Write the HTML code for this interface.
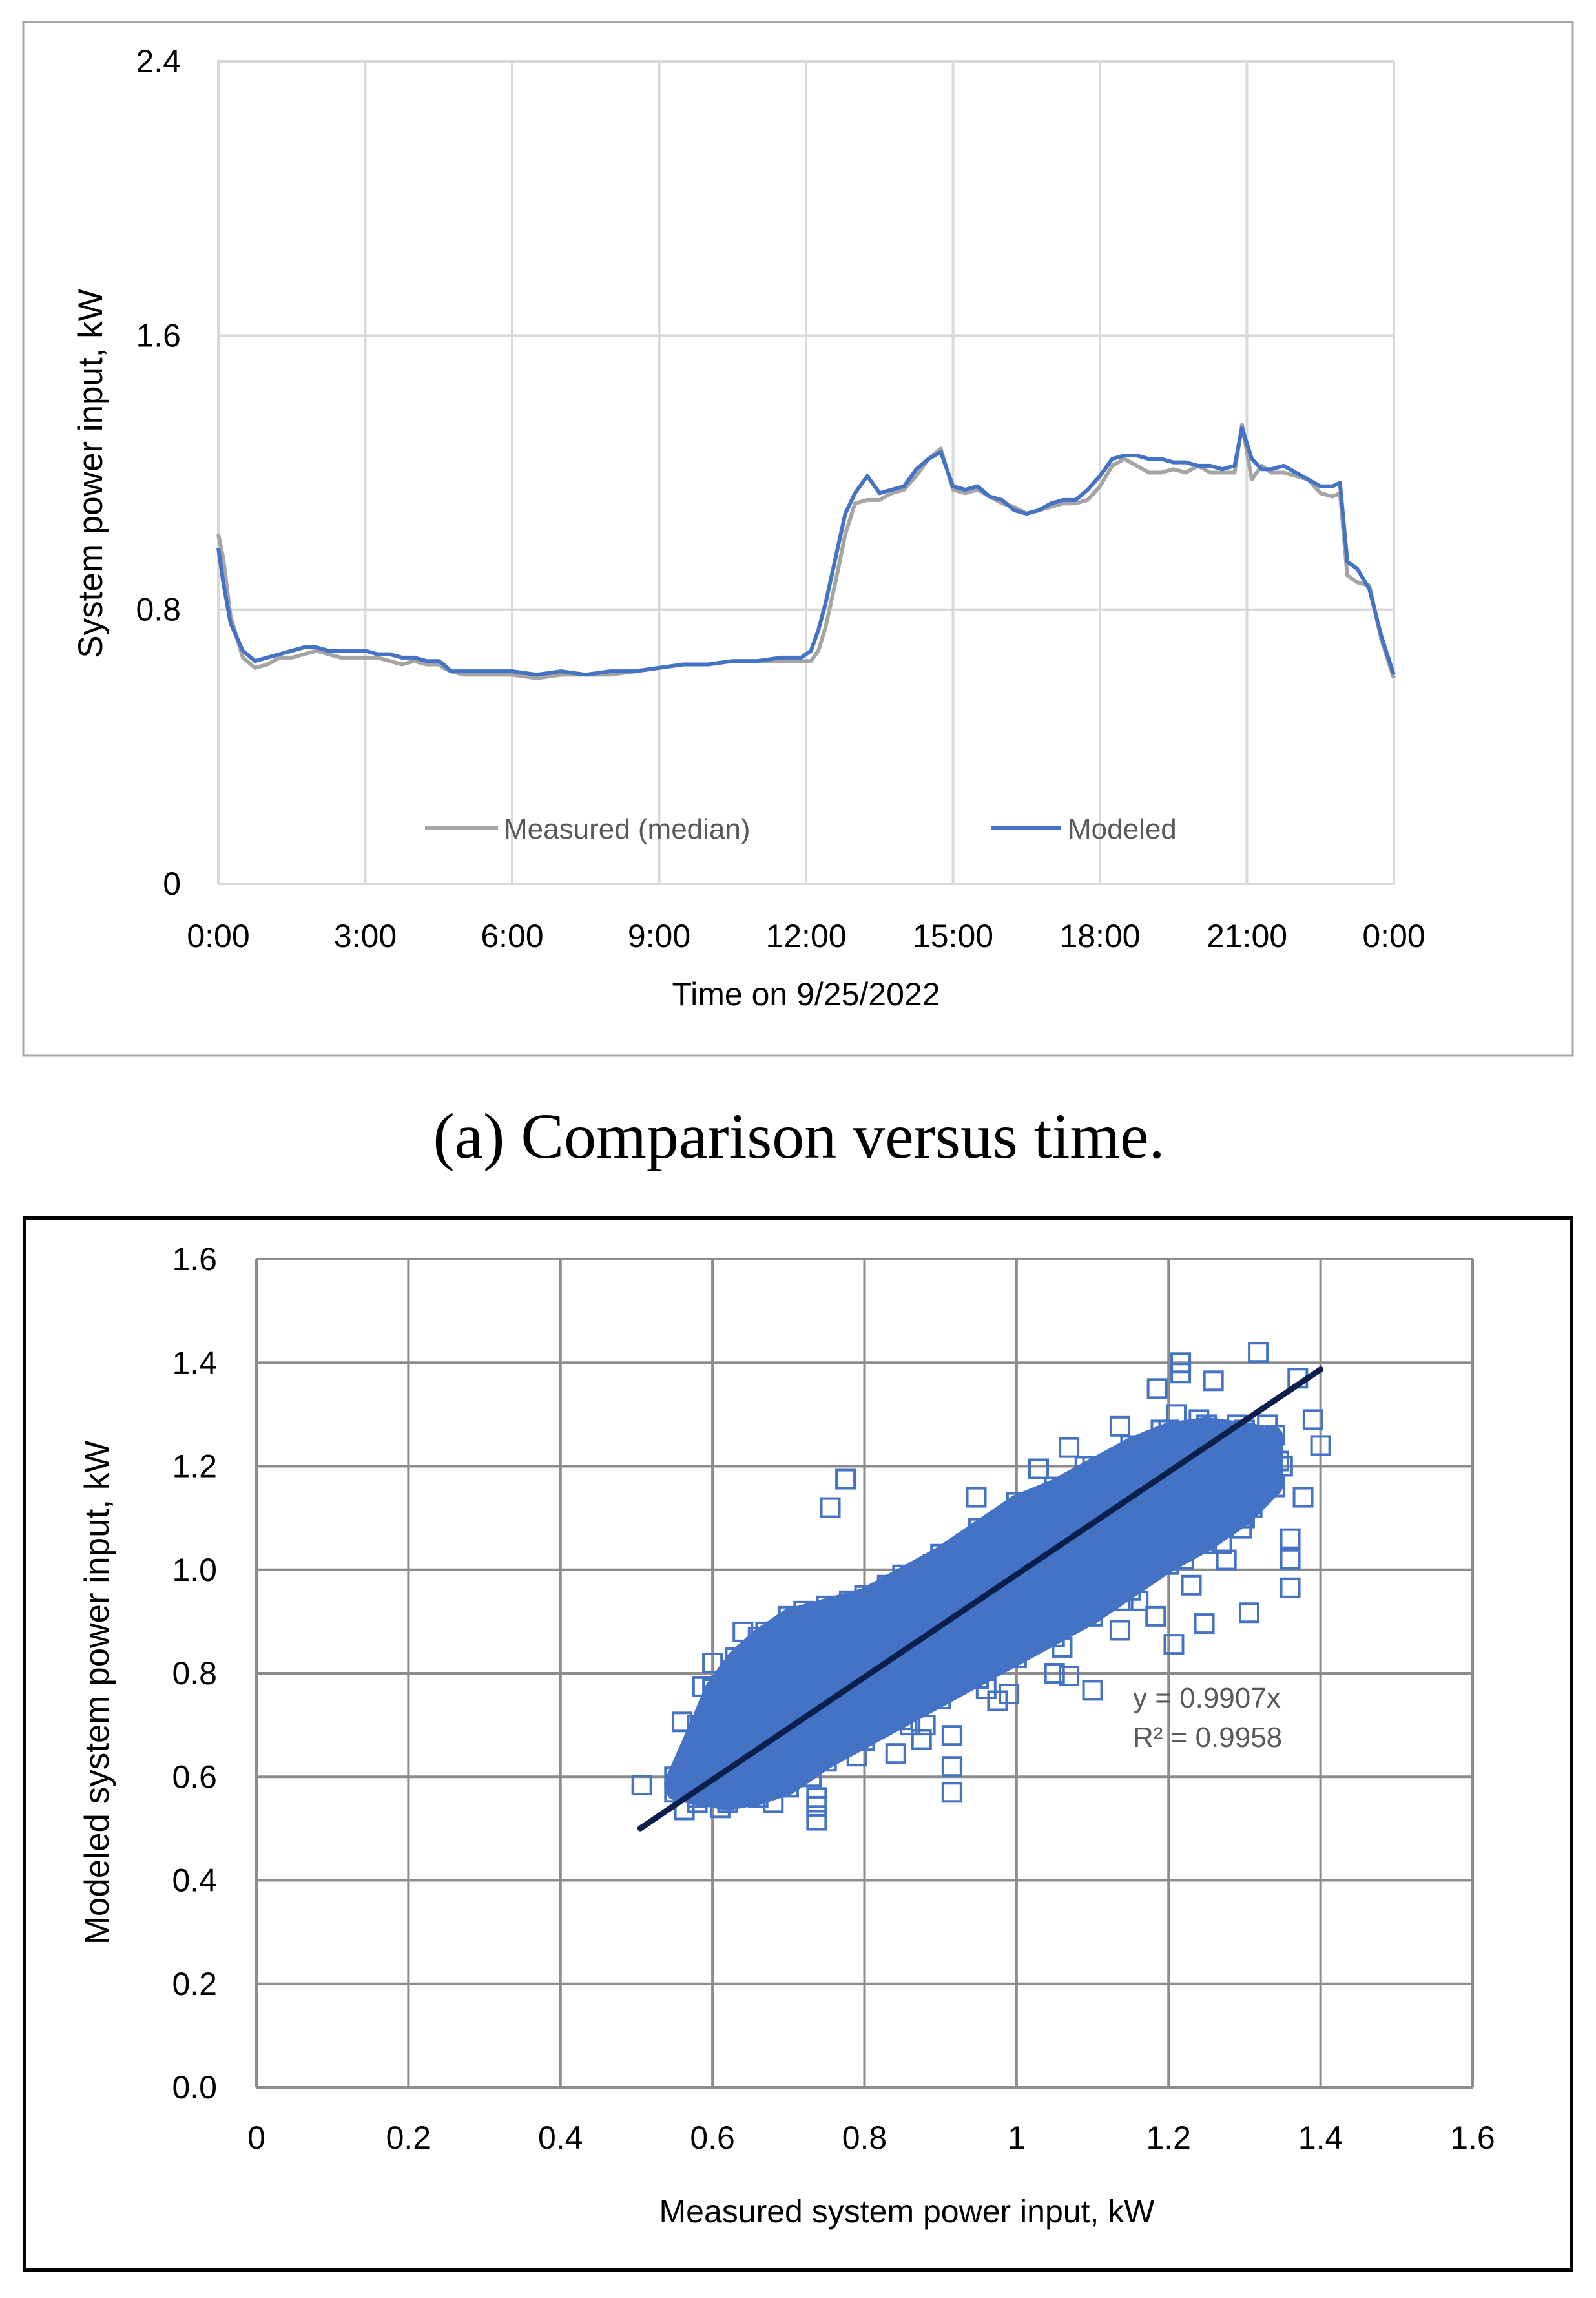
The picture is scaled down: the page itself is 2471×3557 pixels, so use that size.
<!DOCTYPE html>
<html><head><meta charset="utf-8"><style>
html,body{margin:0;padding:0;background:#fff}
svg{display:block}
text{font-family:"Liberation Sans",sans-serif}
</style></head><body>
<svg id="s" width="2471" height="3557" xmlns="http://www.w3.org/2000/svg">
<rect x="0" y="0" width="2471" height="3557" fill="#fff"/>
<rect x="36" y="34" width="2399" height="1600" fill="none" stroke="#a6a6a6" stroke-width="3"/>
<g id="gA"></g>
<text x="1237" y="1792" font-size="100" text-anchor="middle" style="font-family:'Liberation Serif',serif">(a)  Comparison versus time.</text>
<rect x="38" y="1885" width="2395" height="1628" fill="none" stroke="#000" stroke-width="6"/>
<g id="gB"></g>
</svg>
<script>
// ---------- Chart A data ----------
const hours = [0,0.1,0.25,0.5,0.75,1,1.25,1.5,1.75,2,2.25,2.5,2.75,3,3.25,3.5,3.75,4,4.25,4.5,4.6,4.75,5,5.5,6,6.5,7,7.5,8,8.5,9,9.5,10,10.5,11,11.5,11.9,12.1,12.25,12.4,12.6,12.8,13,13.25,13.5,13.75,14,14.25,14.5,14.75,15,15.25,15.5,15.75,16,16.25,16.5,16.75,17,17.25,17.5,17.75,18,18.25,18.5,18.75,19,19.25,19.5,19.75,20,20.25,20.5,20.75,20.9,21.1,21.3,21.5,21.75,22,22.25,22.5,22.75,22.9,23.05,23.25,23.5,23.75,24];
const modeled = [0.98,0.88,0.76,0.68,0.65,0.66,0.67,0.68,0.69,0.69,0.68,0.68,0.68,0.68,0.67,0.67,0.66,0.66,0.65,0.65,0.64,0.62,0.62,0.62,0.62,0.61,0.62,0.61,0.62,0.62,0.63,0.64,0.64,0.65,0.65,0.66,0.66,0.68,0.74,0.82,0.95,1.08,1.14,1.19,1.14,1.15,1.16,1.21,1.24,1.26,1.16,1.15,1.16,1.13,1.12,1.09,1.08,1.09,1.11,1.12,1.12,1.15,1.19,1.24,1.25,1.25,1.24,1.24,1.23,1.23,1.22,1.22,1.21,1.22,1.33,1.24,1.21,1.21,1.22,1.20,1.18,1.16,1.16,1.17,0.94,0.92,0.86,0.72,0.61];
const measured = [1.02,0.95,0.78,0.66,0.63,0.64,0.66,0.66,0.67,0.68,0.67,0.66,0.66,0.66,0.66,0.65,0.64,0.65,0.64,0.64,0.63,0.62,0.61,0.61,0.61,0.60,0.61,0.61,0.61,0.62,0.63,0.64,0.64,0.65,0.65,0.65,0.65,0.65,0.68,0.75,0.88,1.02,1.11,1.12,1.12,1.14,1.15,1.19,1.24,1.27,1.15,1.14,1.15,1.13,1.11,1.10,1.08,1.09,1.10,1.11,1.11,1.12,1.16,1.22,1.24,1.22,1.20,1.20,1.21,1.20,1.22,1.20,1.20,1.20,1.34,1.18,1.22,1.20,1.20,1.19,1.18,1.14,1.13,1.14,0.90,0.88,0.87,0.71,0.60];
const yTicksA = [0,0.8,1.6,2.4];
const yTickLabelsA = ["0","0.8","1.6","2.4"];
const xTicksA = [0,3,6,9,12,15,18,21,24];
const xTickLabelsA = ["0:00","3:00","6:00","9:00","12:00","15:00","18:00","21:00","0:00"];

// ---------- Chart B data ----------
const bTicks = [0,0.2,0.4,0.6,0.8,1.0,1.2,1.4,1.6];
const bXLabels = ["0","0.2","0.4","0.6","0.8","1","1.2","1.4","1.6"];
const bYLabels = ["0.0","0.2","0.4","0.6","0.8","1.0","1.2","1.4","1.6"];
const cloudX = [0.55,0.58,0.60,0.63,0.66,0.70,0.75,0.80,0.85,0.90,0.95,1.00,1.05,1.10,1.15,1.20,1.25,1.30,1.34,1.34,1.30,1.25,1.20,1.15,1.10,1.05,1.00,0.95,0.90,0.85,0.80,0.75,0.70,0.66,0.62,0.58,0.55];
const cloudY = [0.60,0.70,0.77,0.83,0.87,0.91,0.93,0.95,0.99,1.03,1.08,1.13,1.16,1.20,1.24,1.27,1.28,1.27,1.26,1.16,1.10,1.05,1.01,0.96,0.91,0.87,0.83,0.79,0.75,0.71,0.67,0.63,0.58,0.56,0.55,0.56,0.57];
const outX = [1.216,1.318,1.259,1.185,1.37,1.39,1.40,1.377,1.36,1.36,1.306,1.247,1.207,1.10,1.069,0.915,0.915,0.737,0.737,0.755,0.775,0.507,0.563,0.875,1.136,1.276,1.296,1.183,1.23,0.975,0.841,0.947,1.029,1.136,0.587,0.56,0.661,1.069,0.915,0.737,1.216,1.36,0.58,0.62,0.70,0.88,0.99,1.05,1.16,1.33,1.31,1.27,0.64,0.60,0.67,0.72,0.78,0.83,0.92,0.97,1.02,1.08,1.12,1.19,1.24,1.29,1.33,1.35,1.31,1.22,1.14,1.06,0.96,0.86,0.79,0.73,0.68,0.61,0.57,1.21,1.09,0.99,0.89,0.82,1.27,1.32,1.345];
const outY = [1.40,1.42,1.365,1.35,1.37,1.29,1.24,1.14,1.06,0.965,0.917,0.896,0.856,0.767,0.795,0.68,0.57,0.543,0.516,1.12,1.175,0.584,0.536,0.672,0.883,1.019,1.08,0.91,0.97,0.747,0.645,1.14,1.195,1.277,0.774,0.706,0.829,1.236,0.62,0.56,1.38,1.02,0.55,0.55,0.58,0.70,0.76,0.80,0.94,1.28,1.24,1.26,0.88,0.82,0.88,0.92,0.94,0.97,1.02,1.07,1.12,1.15,1.19,1.27,1.29,1.28,1.22,1.20,1.12,1.02,0.94,0.85,0.77,0.70,0.64,0.60,0.55,0.54,0.58,1.30,1.20,1.10,1.01,0.95,1.05,1.16,1.21];
const slope = 0.9907;
const trendRange = [0.505,1.4];

const NS="http://www.w3.org/2000/svg";
function mk(parent,tag,attrs,txt){const e=document.createElementNS(NS,tag);for(const k in attrs)e.setAttribute(k,attrs[k]);if(txt!==undefined)e.textContent=txt;parent.appendChild(e);return e;}

// ---- Chart A ----
const gA=document.getElementById('gA');
const xA=h=>338+h*(1820/24);
const yA=v=>1368-v*(1273/2.4);
xTicksA.forEach((t,i)=>{
  const l=mk(gA,'line',{x1:xA(t),x2:xA(t),y1:yA(2.4),y2:yA(0),stroke:'#d9d9d9','stroke-width':4});
  
  
  const tx=mk(gA,'text',{x:xA(t),y:1466,'font-size':50,'text-anchor':'middle',fill:'#000'},xTickLabelsA[i]);
  
  
});
yTicksA.forEach((t,i)=>{
  const l=mk(gA,'line',{x1:xA(0),x2:xA(24),y1:yA(t),y2:yA(t),stroke:'#d9d9d9','stroke-width':4});
  
  
  const tx=mk(gA,'text',{x:280,y:yA(t)+17,'font-size':50,'text-anchor':'end',fill:'#000'},yTickLabelsA[i]);
  
  
});
function pathA(vals){return vals.map((v,i)=>(i?'L':'M')+xA(hours[i]).toFixed(1)+','+yA(v).toFixed(1)).join(' ');}
const pm=mk(gA,'path',{d:pathA(measured),fill:'none',stroke:'#a5a5a5','stroke-width':6,'stroke-linejoin':'round'});


const pmod=mk(gA,'path',{d:pathA(modeled),fill:'none',stroke:'#4472c4','stroke-width':6,'stroke-linejoin':'round'});


const ytA=mk(gA,'text',{x:0,y:0,'font-size':53,'text-anchor':'middle',transform:'translate(158,733) rotate(-90)'},'System power input, kW');


const xtA=mk(gA,'text',{x:1248,y:1556,'font-size':50,'text-anchor':'middle'},'Time on 9/25/2022');


const lg1=mk(gA,'line',{x1:658,x2:771,y1:1282,y2:1282,stroke:'#a5a5a5','stroke-width':6});


const lt1=mk(gA,'text',{x:780,y:1298,'font-size':44,fill:'#595959'},'Measured (median)');


const lg2=mk(gA,'line',{x1:1534,x2:1643,y1:1282,y2:1282,stroke:'#4472c4','stroke-width':6});


const lt2=mk(gA,'text',{x:1653,y:1298,'font-size':44,fill:'#595959'},'Modeled');



// ---- Chart B ----
const gB=document.getElementById('gB');
const xB=v=>397+v*(1883/1.6);
const yB=v=>3231-v*(1282/1.6);
bTicks.forEach((t,i)=>{
  const l=mk(gB,'line',{x1:xB(t),x2:xB(t),y1:yB(1.6),y2:yB(0),stroke:'#8c8c8c','stroke-width':4});
  
  
  const l2=mk(gB,'line',{x1:xB(0),x2:xB(1.6),y1:yB(t),y2:yB(t),stroke:'#8c8c8c','stroke-width':4});
  
  
  const tx=mk(gB,'text',{x:xB(t),y:3326,'font-size':50,'text-anchor':'middle'},bXLabels[i]);
  
  
  const ty=mk(gB,'text',{x:336,y:yB(t)+17,'font-size':50,'text-anchor':'end'},bYLabels[i]);
  
  
});
const cl=mk(gB,'polygon',{points:cloudX.map((x,i)=>xB(x).toFixed(1)+','+yB(cloudY[i]).toFixed(1)).join(' '),fill:'#4472c4',stroke:'#4472c4','stroke-width':24,'stroke-linejoin':'round'});


cloudX.forEach((x,i)=>{
  const r=mk(gB,'rect',{x:xB(x)-14,y:yB(cloudY[i])-14,width:28,height:28,fill:'none',stroke:'#4472c4','stroke-width':4});
  
  
});
outX.forEach((x,i)=>{
  const r=mk(gB,'rect',{x:xB(x)-14,y:yB(outY[i])-14,width:28,height:28,fill:'none',stroke:'#4472c4','stroke-width':4});
  
  
});
const tl=mk(gB,'line',{x1:xB(trendRange[0]),y1:yB(trendRange[0]*slope),x2:xB(trendRange[1]),y2:yB(trendRange[1]*slope),stroke:'#0b1f4d','stroke-width':9,'stroke-linecap':'round'});


const eq1=mk(gB,'text',{x:1754,y:2643,'font-size':44,fill:'#595959'},'y = 0.9907x');


const eq2=mk(gB,'text',{x:1754,y:2704,'font-size':44,fill:'#595959'},'R² = 0.9958');


const ytB=mk(gB,'text',{x:0,y:0,'font-size':53,'text-anchor':'middle',transform:'translate(168,2620) rotate(-90)'},'Modeled system power input, kW');


const xtB=mk(gB,'text',{x:1404,y:3440,'font-size':50,'text-anchor':'middle'},'Measured system power input, kW');


</script>
</body></html>
